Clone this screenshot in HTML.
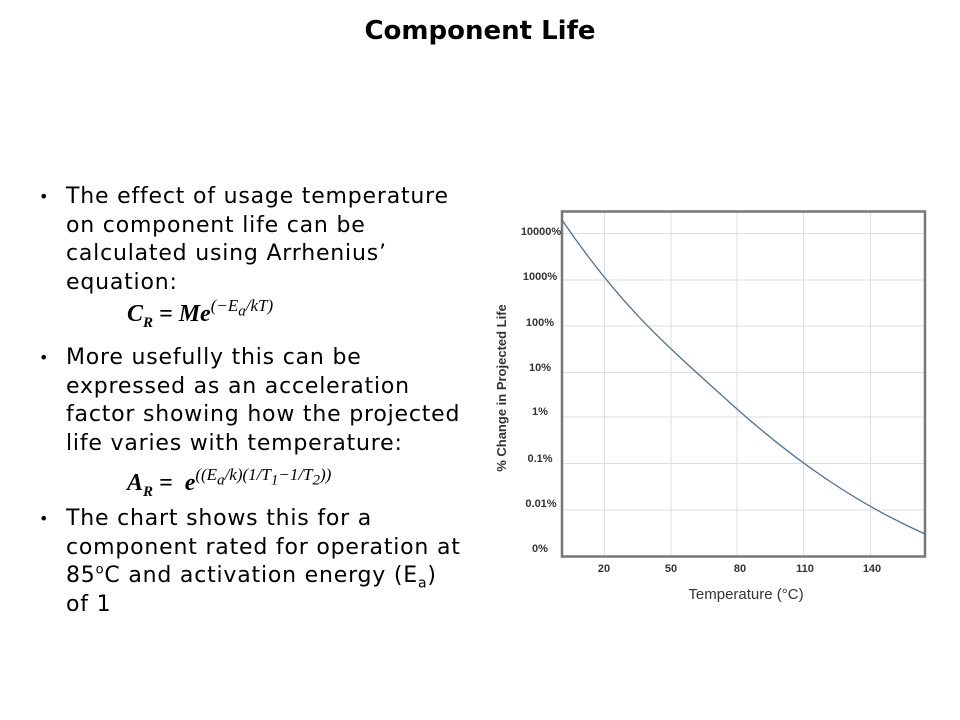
<!DOCTYPE html>
<html><head><meta charset="utf-8"><style>
body{margin:0;width:960px;height:720px;background:#fff;position:relative;overflow:hidden;font-family:"DejaVu Sans","Liberation Sans",sans-serif;color:#000}
.t{position:absolute;left:0;width:960px;top:16px;text-align:center;font-weight:bold;font-size:26px}
.p{position:absolute;left:66px;font-size:22px;letter-spacing:0.8px;line-height:28.7px;white-space:nowrap}
.p sup,.p sub{line-height:0}
.b{position:absolute;left:39px;font-size:16px}
.m{position:absolute;font-family:"Liberation Serif",serif;font-style:italic;font-weight:bold;font-size:24px;white-space:nowrap}
.m sup{font-size:17px;font-weight:normal;vertical-align:10px;line-height:0}
.m sub{font-size:15px;line-height:0}
</style></head><body>
<div class="t">Component Life</div>
<div class="b" style="top:187px">•</div>
<div class="p" style="top:183px">The effect of usage temperature<br>on component life can be<br>calculated using Arrhenius’<br>equation:</div>
<div class="m" style="left:127px;top:301px">C<sub>R</sub> = Me<sup>(−E<sub>a</sub>/kT)</sup></div>
<div class="b" style="top:348px">•</div>
<div class="p" style="top:344px">More usefully this can be<br>expressed as an acceleration<br>factor showing how the projected<br>life varies with temperature:</div>
<div class="m" style="left:127px;top:470px">A<sub>R</sub> = &nbsp;e<sup>((E<sub>a</sub>/k)(1/T<sub>1</sub>−1/T<sub>2</sub>))</sup></div>
<div class="b" style="top:509px">•</div>
<div class="p" style="top:505px">The chart shows this for a<br>component rated for operation at<br>85<sup style="font-size:13px">o</sup>C and activation energy (E<sub style="font-size:14px">a</sub>)<br>of 1</div>
<svg style="position:absolute;left:0;top:0" width="960" height="720">
<g stroke="#ddd" stroke-width="1">
<line x1="562" x2="925" y1="233.5" y2="233.5"/><line x1="562" x2="925" y1="280" y2="280"/><line x1="562" x2="925" y1="326" y2="326"/><line x1="562" x2="925" y1="372.5" y2="372.5"/><line x1="562" x2="925" y1="417" y2="417"/><line x1="562" x2="925" y1="463.5" y2="463.5"/><line x1="562" x2="925" y1="510" y2="510"/>
<line y1="211" y2="557" x1="604.5" x2="604.5"/><line y1="211" y2="557" x1="671" x2="671"/><line y1="211" y2="557" x1="737" x2="737"/><line y1="211" y2="557" x1="803.5" x2="803.5"/><line y1="211" y2="557" x1="870.5" x2="870.5"/>
</g>
<rect x="562" y="211.5" width="363" height="345" fill="none" stroke="#777" stroke-width="2.5"/>
<path fill="none" stroke="#52718a" stroke-width="1.3" d="M562,220 C620,305 660,340 737,409 C800,465 860,505 925,534"/>
<g font-family="Liberation Sans Narrow,Liberation Sans,sans-serif" font-size="11" font-weight="bold" fill="#333" text-anchor="middle">
<text x="541" y="235">10000%</text><text x="540" y="280">1000%</text><text x="540" y="326">100%</text><text x="540" y="371">10%</text><text x="540" y="415">1%</text><text x="540" y="462">0.1%</text><text x="541" y="507">0.01%</text><text x="540" y="552">0%</text>
<text x="604" y="572">20</text><text x="671" y="572">50</text><text x="740" y="572">80</text><text x="805" y="572">110</text><text x="872" y="572">140</text>
<text x="746" y="599" font-size="15" font-weight="normal">Temperature (°C)</text>
<text transform="translate(506,388) rotate(-90)" font-size="13">% Change in Projected Life</text>
</g>
</svg>
</body></html>
